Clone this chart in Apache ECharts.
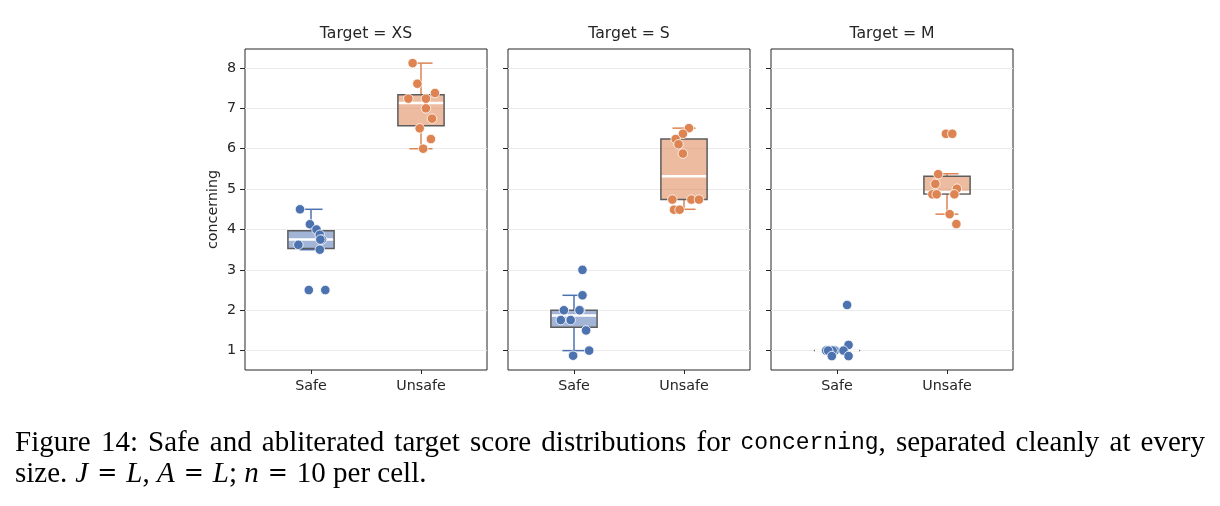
<!DOCTYPE html>
<html>
<head>
<meta charset="utf-8">
<script src="https://cdn.jsdelivr.net/npm/echarts@6/dist/echarts.min.js"></script>
<style>
  html, body { margin: 0; padding: 0; background: #fff; }
  #chart { width: 1220px; height: 506px; }
</style>
</head>
<body>
<div id="chart"></div>
<script>
  const panels = ['XS', 'S', 'M'];
  const groups = ['Safe', 'Unsafe'];
  const yTicks = [1, 2, 3, 4, 5, 6, 7, 8];

  /* points: [jittered position, score] */
  const safeXS = [[-0.10, 4.5], [-0.01, 4.13], [0.05, 4.0], [0.08, 3.87], [0.10, 3.75], [0.085, 3.75],
                  [-0.115, 3.62], [0.08, 3.5], [-0.02, 2.5], [0.13, 2.5]];
  const unsafeXS = [[0.924, 8.12], [0.967, 7.61], [1.127, 7.38], [0.885, 7.24], [1.045, 7.24], [1.045, 7.0],
                    [1.10, 6.745], [0.988, 6.505], [1.09, 6.24], [1.02, 6.0]];
  const safeS = [[0.077, 3.0], [0.077, 2.37], [-0.092, 2.0], [0.056, 2.0], [0.05, 2.0], [-0.12, 1.757],
                 [-0.03, 1.757], [0.11, 1.5], [0.138, 1.0], [-0.008, 0.874]];
  const unsafeS = [[1.045, 6.51], [0.99, 6.37], [0.924, 6.24], [0.95, 6.11], [0.99, 5.88], [0.894, 4.74],
                   [1.067, 4.74], [1.136, 4.74], [0.909, 4.49], [0.96, 4.49]];
  const safeM = [[0.092, 2.13], [0.105, 1.14], [-0.098, 1.0], [-0.059, 1.0], [-0.02, 1.0], [0.059, 1.0],
                 [-0.04, 1.0], [-0.08, 1.0], [-0.047, 0.865], [0.105, 0.865]];
  const unsafeM = [[0.99, 6.37], [1.048, 6.37], [0.92, 5.37], [0.894, 5.13], [1.09, 5.01], [0.867, 4.87],
                   [0.906, 4.87], [1.067, 4.87], [1.024, 4.38], [1.085, 4.135]];

  /* box stats: [group, whiskerLow, q1, median, q3, whiskerHigh] */
  const boxXS = [[0, 3.5, 3.53, 3.75, 3.97, 4.5], [1, 6.0, 6.57, 7.13, 7.34, 8.12]];
  const boxS = [[0, 1.0, 1.58, 1.87, 2.0, 2.37], [1, 4.5, 4.74, 5.32, 6.24, 6.51]];
  const boxM = [[0, 1.0, 1.0, 1.0, 1.0, 1.0], [1, 4.38, 4.88, 4.93, 5.32, 5.38]];

  const points = [[safeXS, unsafeXS], [safeS, unsafeS], [safeM, unsafeM]];
  const boxes = [boxXS, boxS, boxM];

  const colors = ['#4c72b0', '#dd8452'];
  const fills = ['rgba(76,114,176,0.52)', 'rgba(221,132,82,0.55)'];
  const lefts = [245, 508, 771];
  const panelW = 242;
  const font = 'DejaVu Sans';

  /* 箱线图 */
  function renderBox(params, api) {
    const g = api.value(0);
    const half = 0.21, cap = 0.105;
    const pLow = api.coord([g, api.value(1)]);
    const pQ1 = api.coord([g - half, api.value(2)]);
    const pMed = api.coord([g, api.value(3)]);
    const pQ3 = api.coord([g + half, api.value(4)]);
    const pHigh = api.coord([g, api.value(5)]);
    const capL = api.coord([g - cap, 1])[0];
    const capR = api.coord([g + cap, 1])[0];
    const line = {stroke: colors[g], lineWidth: 1.5};
    return {
      type: 'group',
      children: [
        {type: 'line', shape: {x1: pMed[0], y1: pQ3[1], x2: pMed[0], y2: pHigh[1]}, style: line},
        {type: 'line', shape: {x1: pMed[0], y1: pQ1[1], x2: pMed[0], y2: pLow[1]}, style: line},
        {type: 'line', shape: {x1: capL, y1: pHigh[1], x2: capR, y2: pHigh[1]}, style: line},
        {type: 'line', shape: {x1: capL, y1: pLow[1], x2: capR, y2: pLow[1]}, style: line},
        {type: 'rect', shape: {x: pQ1[0], y: pQ3[1], width: pQ3[0] - pQ1[0], height: pQ1[1] - pQ3[1]},
          style: {fill: fills[g], stroke: '#5c5c5c', lineWidth: 1.5}},
        {type: 'line', shape: {x1: pQ1[0] + 1, y1: pMed[1], x2: pQ3[0] - 1, y2: pMed[1]},
          style: {stroke: '#fff', lineWidth: 2.5}}
      ]
    };
  }

  const grid = [], xAxis = [], yAxis = [], series = [], graphic = [];

  panels.forEach(function (p, i) {
    grid.push({left: lefts[i], top: 49, width: panelW, height: 321, show: true,
      borderColor: '#262626', borderWidth: 1, backgroundColor: '#fff'});

    xAxis.push({
      type: 'value', gridIndex: i, min: -0.6, max: 1.6,
      axisLine: {show: false, onZero: false},
      axisTick: {show: true, length: 4, customValues: [0, 1], lineStyle: {color: '#262626'}},
      axisLabel: {show: true, customValues: [0, 1], margin: 9, color: '#262626', fontSize: 14.3, fontFamily: font,
        formatter: function (v) { return groups[Math.round(v)]; }},
      splitLine: {show: false}
    });

    yAxis.push({
      type: 'value', gridIndex: i, min: 0.52, max: 8.47,
      name: i === 0 ? 'concerning' : '', nameLocation: 'middle', nameGap: 25,
      nameTextStyle: {color: '#262626', fontSize: 14.3, fontFamily: font},
      axisLine: {show: false, onZero: false},
      axisTick: {show: true, length: 5, customValues: yTicks, lineStyle: {color: '#262626'}},
      axisLabel: {show: i === 0, customValues: yTicks, margin: 9, color: '#262626', fontSize: 14.3, fontFamily: font},
      splitLine: {show: true, lineStyle: {color: '#ebebeb', width: 1}}
    });

    series.push({
      type: 'custom', xAxisIndex: i, yAxisIndex: i, z: 2,
      renderItem: renderBox, encode: {x: 0, y: [1, 2, 3, 4, 5]},
      data: boxes[i], silent: true
    });

    points[i].forEach(function (pts, g) {
      series.push({
        type: 'scatter', xAxisIndex: i, yAxisIndex: i, z: 3,
        data: pts, symbolSize: 9.5,
        itemStyle: {color: colors[g], borderColor: '#fff', borderWidth: 0.8, opacity: 1}
      });
    });

    graphic.push({type: 'text', x: lefts[i] + panelW / 2, y: 34,
      style: {text: 'Target = ' + p, font: '15.7px "DejaVu Sans"', fill: '#262626',
        align: 'center', verticalAlign: 'middle', textAlign: 'center', textVerticalAlign: 'middle'}});
  });

  /* 图注 */
  const capFonts = {
    a: {family: 'Liberation Serif', size: 29, style: 'normal'},
    m: {family: 'Liberation Mono', size: 23, style: 'normal'},
    i: {family: 'Liberation Serif', size: 29, style: 'italic'}
  };
  const capRich = {};
  Object.keys(capFonts).forEach(function (k) {
    capRich[k] = {fontFamily: capFonts[k].family, fontSize: capFonts[k].size, fontStyle: capFonts[k].style, color: '#000'};
  });
  capRich.j = {fontFamily: 'Liberation Serif', fontSize: 29, fontStyle: 'italic', color: '#000', padding: [0, 0, 0, 8]};
  capRich.e = {fontFamily: 'DejaVu Serif', fontSize: 24, color: '#000', padding: [0, 9]};

  const measureCtx = document.createElement('canvas').getContext('2d');
  function segWidth(seg) {
    const f = capFonts[seg[0]];
    measureCtx.font = f.style + ' ' + f.size + 'px "' + f.family + '"';
    return measureCtx.measureText(seg[1]).width;
  }

  // line 1 is justified, like the LaTeX caption
  const line1 = 'Figure 14: Safe and abliterated target score distributions for'.split(' ')
    .map(function (w) { return [['a', w]]; })
    .concat([[['m', 'concerning'], ['a', ',']]])
    .concat('separated cleanly at every'.split(' ').map(function (w) { return [['a', w]]; }));
  const capLeft = 15, capRight = 1205;
  const widths = line1.map(function (w) {
    return w.reduce(function (s, seg) { return s + segWidth(seg); }, 0);
  });
  const totalW = widths.reduce(function (s, v) { return s + v; }, 0);
  const gap = (capRight - capLeft - totalW) / (line1.length - 1);
  let cx = capLeft;
  line1.forEach(function (w, k) {
    graphic.push({type: 'text', x: cx, y: 443,
      style: {text: w.map(function (seg) { return '{' + seg[0] + '|' + seg[1] + '}'; }).join(''),
        rich: capRich, verticalAlign: 'middle', textVerticalAlign: 'middle'}});
    cx += widths[k] + gap;
  });

  graphic.push({type: 'text', x: capLeft, y: 474,
    style: {text: '{a|size.}{j|J}{e|=}{i|L}{a|, }{i|A}{e|=}{i|L}{a|; }{i|n}{e|=}{a|10 per cell.}',
      rich: capRich, verticalAlign: 'middle', textVerticalAlign: 'middle'}});

  const chart = echarts.init(document.getElementById('chart'));
  chart.setOption({
    animation: false,
    backgroundColor: '#fff',
    grid: grid,
    xAxis: xAxis,
    yAxis: yAxis,
    series: series,
    graphic: graphic
  });
</script>
</body>
</html>
